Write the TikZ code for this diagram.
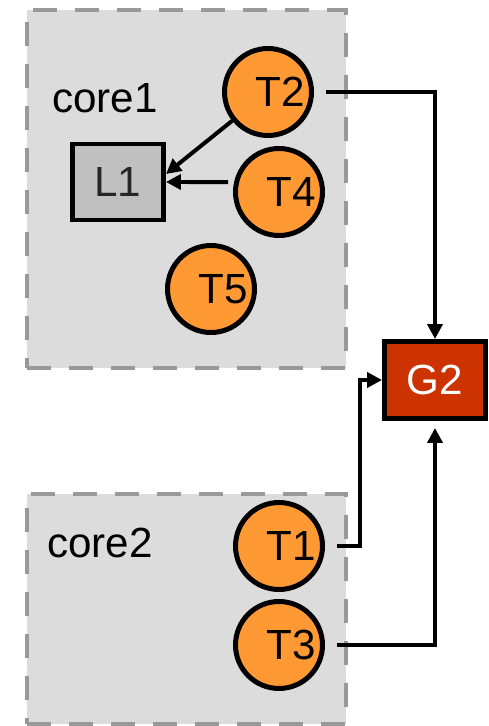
\documentclass[tikz,border=0pt]{standalone}
\usepackage{fontspec}
\setmainfont{Liberation Sans}
\usetikzlibrary{arrows.meta, positioning}
\definecolor{coregray}{HTML}{DCDCDC}
\definecolor{dashgray}{HTML}{999999}
\definecolor{lockgray}{HTML}{C0C0C0}
\definecolor{taskorange}{HTML}{FF9933}
\definecolor{groupred}{HTML}{CC3300}
\tikzstyle{core} = [rectangle, draw=dashgray, fill=coregray, line width=0.08cm,
  dash pattern=on 0.48cm off 0.36cm, minimum width=6.38cm]
\tikzstyle{task} = [circle, draw, fill=taskorange, line width=0.1cm,
  minimum size=1.74cm, inner sep=0pt, font=\fontsize{24}{28}\selectfont]
\tikzstyle{lockbox} = [rectangle, draw, fill=lockgray, line width=0.09cm,
  minimum width=1.83cm, minimum height=1.53cm, text=black!85, font=\fontsize{24}{28}\selectfont]
\tikzstyle{groupbox} = [rectangle, draw, fill=groupred, line width=0.1cm,
  minimum width=2.02cm, minimum height=1.54cm, text=white, font=\fontsize{24}{28}\selectfont]
\tikzstyle{corelabel} = [anchor=base west, inner sep=0pt, font=\fontsize{24}{28}\selectfont]
\tikzstyle{arrow} = [line width=0.08cm, -{Triangle[length=0.3cm, width=0.3cm]}]

\begin{document}
\begin{tikzpicture}[x=0.02cm, y=-0.02cm]
    \useasboundingbox (0,0) rectangle (489,726);
    \node[core, minimum height=7.16cm] (core1) at (186.5,189) {};
    \node[core, minimum height=4.6cm] (core2) at (186.5,609) {};
    \node[corelabel] (core1label) at (52,113) {core1};
    \node[corelabel] (core2label) at (47,557) {core2};
    \node[task] (T2) at (268,92) {\hspace*{0.48cm}T2};
    \node[task] (T4) at (279,192) {\hspace*{0.48cm}T4};
    \node[task] (T5) at (211,289) {\hspace*{0.48cm}T5};
    \node[lockbox] (L1) at (118,182) {L1};
    \node[task] (T1) at (279,546) {\hspace*{0.48cm}T1};
    \node[task, below=0.14cm of T1] (T3) {\hspace*{0.48cm}T3};
    \node[groupbox] (G2) at (435,380) {G2};
    \draw[arrow] (T2) -- ([yshift=0.16cm]L1.east);
    \draw[arrow, shorten <=0.1cm] ([yshift=0.2cm]T4.west) -- (L1.east);
    \draw[arrow, shorten <=0.24cm] (T2.east) -| (G2.north);
    \draw[arrow, shorten <=0.24cm] (T1.east) -- ++(0.7cm,0) |- (G2.west);
    \draw[arrow, shorten <=0.24cm, shorten >=0.14cm] (T3.east) -| (G2.south);
  \end{tikzpicture}
\end{document}
